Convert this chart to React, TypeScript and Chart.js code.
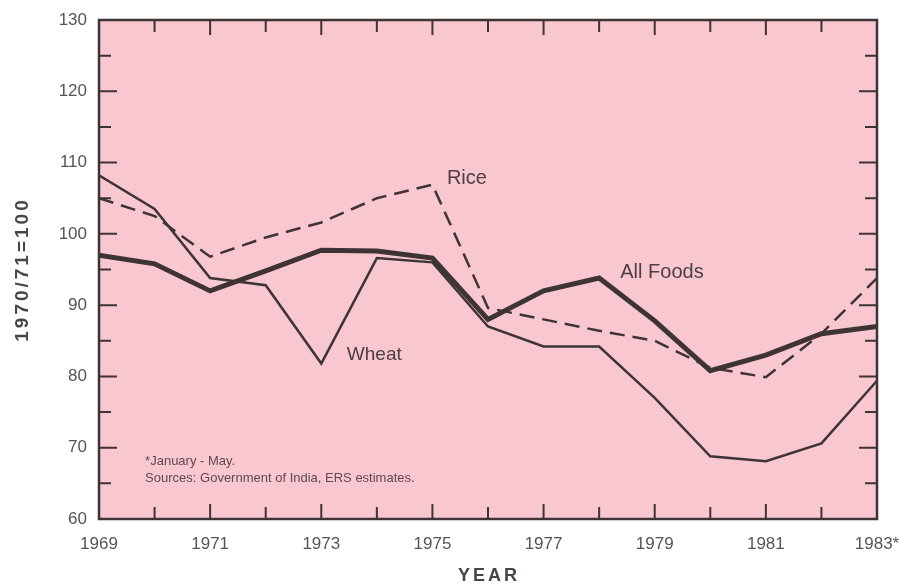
import React, { useEffect, useRef } from "react";
import { Chart, registerables } from "chart.js";

Chart.register(...registerables);

const years = [1969, 1970, 1971, 1972, 1973, 1974, 1975, 1976, 1977, 1978, 1979, 1980, 1981, 1982, 1983];
const allFoods = [97, 95.8, 92, 94.8, 97.7, 97.6, 96.6, 88, 92, 93.8, 87.8, 80.8, 83, 86, 87];
const wheat = [108.2, 103.5, 93.8, 92.8, 81.8, 96.6, 96, 87, 84.2, 84.2, 77, 68.8, 68.1, 70.6, 79.4];
const rice = [105, 102.5, 96.8, 99.5, 101.6, 105, 106.9, 89.6, 88, 86.4, 85, 81.2, 79.9, 86, 93.8];

const seriesNames = ["Rice", "All Foods", "Wheat"];
const seriesLabelX = [1975.26, 1978.38, 1973.46];
const seriesLabelY = [107.8, 94.6, 83.1];

const footnotes = ["*January - May.", "Sources: Government of India, ERS estimates."];
const footnoteX = 1969.83;
const footnoteY = [68.1, 65.7];

const yTitle = "1970/71=100";
const xTitle = "YEAR";

const FONT = "'Liberation Sans', Arial, Helvetica, sans-serif";
const INK = "#3e3436";
const PINK = "#f8c7d0";

const toPts = (vals: number[]) => vals.map((v, i) => ({ x: years[i], y: v }));

const framePlugin = {
  id: "frame",
  beforeDatasetsDraw(chart: any) {
    const { ctx, chartArea: a } = chart;
    ctx.save();
    ctx.fillStyle = PINK;
    ctx.fillRect(a.left, a.top, a.right - a.left, a.bottom - a.top);
    ctx.restore();
  },
  afterDatasetsDraw(chart: any) {
    const { ctx, chartArea: a, scales } = chart;
    const xs = scales.x;
    const ys = scales.y;
    ctx.save();
    ctx.strokeStyle = INK;
    ctx.lineWidth = 2;
    ctx.beginPath();
    for (let yr = 1970; yr <= 1982; yr++) {
      const px = xs.getPixelForValue(yr);
      const len = yr % 2 === 1 ? 15 : 12;
      ctx.moveTo(px, a.bottom);
      ctx.lineTo(px, a.bottom - len);
      ctx.moveTo(px, a.top);
      ctx.lineTo(px, a.top + len);
    }
    for (let v = 65; v < 130; v += 5) {
      const py = ys.getPixelForValue(v);
      const len = v % 10 === 0 ? 18 : 12;
      ctx.moveTo(a.left, py);
      ctx.lineTo(a.left + len, py);
      ctx.moveTo(a.right, py);
      ctx.lineTo(a.right - len, py);
    }
    ctx.stroke();
    ctx.lineWidth = 2.5;
    ctx.strokeRect(a.left, a.top, a.right - a.left, a.bottom - a.top);

    // series labels
    ctx.fillStyle = "#4d4043";
    ctx.textAlign = "left";
    ctx.textBaseline = "middle";
    seriesNames.forEach((n, i) => {
      ctx.font = `${i === 2 ? 19 : 20}px ${FONT}`;
      ctx.fillText(n, xs.getPixelForValue(seriesLabelX[i]), ys.getPixelForValue(seriesLabelY[i]));
    });

    // footnotes
    ctx.fillStyle = "#5e4a50";
    ctx.font = `13px ${FONT}`;
    footnotes.forEach((t, i) => {
      ctx.fillText(t, xs.getPixelForValue(footnoteX), ys.getPixelForValue(footnoteY[i]));
    });

    // axis titles
    ctx.fillStyle = "#4a4446";
    ctx.font = `bold 18px ${FONT}`;
    (ctx as any).letterSpacing = "3px";
    ctx.textAlign = "center";
    ctx.fillText(xTitle, (a.left + a.right) / 2 + 1, 576);
    ctx.translate(23, (a.top + a.bottom) / 2);
    ctx.rotate(-Math.PI / 2);
    ctx.font = `bold 19px ${FONT}`;
    (ctx as any).letterSpacing = "3px";
    ctx.fillText(yTitle, 0, 0);
    ctx.restore();
  },
};

export default function App() {
  const ref = useRef<HTMLCanvasElement>(null);
  useEffect(() => {
    const chart = new Chart(ref.current!, {
      type: "line",
      data: {
        datasets: [
          {
            label: "Rice",
            data: toPts(rice),
            borderColor: INK,
            borderWidth: 2.5,
            borderDash: [15, 8],
            pointRadius: 0,
            tension: 0,
            fill: false,
          },
          {
            label: "Wheat",
            data: toPts(wheat),
            borderColor: INK,
            borderWidth: 2.5,
            pointRadius: 0,
            tension: 0,
            fill: false,
          },
          {
            label: "All Foods",
            data: toPts(allFoods),
            borderColor: INK,
            borderWidth: 5,
            pointRadius: 0,
            tension: 0,
            fill: false,
          },
        ],
      },
      options: {
        animation: false,
        responsive: false,
        devicePixelRatio: 1,
        layout: { padding: { top: 20, right: 31, left: 0, bottom: 0 } },
        plugins: { legend: { display: false }, tooltip: { enabled: false } },
        scales: {
          x: {
            type: "linear",
            min: 1969,
            max: 1983,
            afterFit: (s: any) => {
              s.height = 69;
              s.paddingLeft = 0;
              s.paddingRight = 0;
            },
            grid: { display: false, drawTicks: false },
            border: { display: false },
            ticks: {
              stepSize: 1,
              autoSkip: false,
              maxRotation: 0,
              padding: 15,
              color: "#555",
              font: { family: FONT, size: 17 },
              callback: (v: any) => (Number(v) % 2 === 1 ? (Number(v) === 1983 ? "1983*" : String(v)) : ""),
            },
          },
          y: {
            min: 60,
            max: 130,
            afterFit: (s: any) => {
              s.width = 99;
              s.paddingTop = 0;
              s.paddingBottom = 0;
            },
            grid: { display: false, drawTicks: false },
            border: { display: false },
            ticks: {
              stepSize: 10,
              padding: 12,
              color: "#555",
              font: { family: FONT, size: 17 },
            },
          },
        },
      },
      plugins: [framePlugin],
    });
    return () => chart.destroy();
  }, []);
  return (
    <div style={{ position: "fixed", left: 0, top: 0, width: 908, height: 588, background: "#fff" }}>
      <canvas ref={ref} width={908} height={588} style={{ display: "block" }} />
    </div>
  );
}
